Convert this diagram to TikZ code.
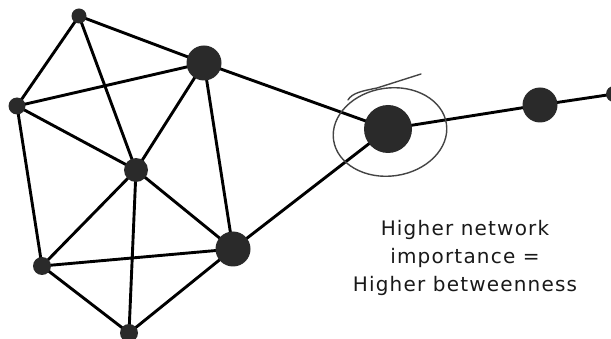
\documentclass[tikz,border=0pt]{standalone}
\usepackage{fontspec}
\newfontfamily\labelfont[LetterSpace=6]{DejaVu Sans}
\definecolor{nodegray}{HTML}{2A2A2A}
\definecolor{markgray}{HTML}{444444}
\tikzset{
  vtx/.style={circle, fill=nodegray, draw=none, inner sep=0pt, minimum size=#1},
  link/.style={line width=2.9pt, draw=black},
  handmark/.style={draw=markgray, line width=1.4pt},
  caption/.style={font=\labelfont\fontsize{20}{28}\selectfont, align=center, text=black!90}
}
\begin{document}
\begin{tikzpicture}[x=1pt, y=-1pt]
\useasboundingbox (0,0) rectangle (611,339);
% node positions
\coordinate (A) at (79,16);
\coordinate (B) at (204,63);
\coordinate (C) at (17,106);
\coordinate (D) at (136,170);
\coordinate (E) at (388,129);
\coordinate (F) at (540,105);
\coordinate (G) at (614,94);
\coordinate (H) at (233,249);
\coordinate (I) at (42,266);
\coordinate (J) at (129,333);
% edges
\draw[link] (A) -- (B) (A) -- (C) (A) -- (D)
  (C) -- (B) (C) -- (D) (C) -- (I)
  (B) -- (D) (B) -- (H) (B) -- (E)
  (D) -- (I) (D) -- (H) (D) -- (J)
  (I) -- (H) (I) -- (J) (J) -- (H)
  (H) -- (E) (E) -- (F) (F) -- (G);
% nodes on top
\foreach \n/\s in {A/15,B/35,C/17,D/24,E/48,F/35,G/16,H/35,I/18,J/18}
  \node[vtx=\s pt] (n\n) at (\n) {};
% hand-drawn mark
\draw[handmark, rotate around={8:(390,132)}] (390,132) ellipse [x radius=57, y radius=44];
\coordinate (s1) at (348,100);
\coordinate (s2) at (377,88);
\coordinate (s3) at (421,74);
\draw[handmark, line cap=round] (s1) .. controls (352,93) and (362,91) .. (s2) -- (s3);
% caption
\node[caption] (T) at (465,258) {Higher network\\importance =\\Higher betweenness};
\end{tikzpicture}
\end{document}
